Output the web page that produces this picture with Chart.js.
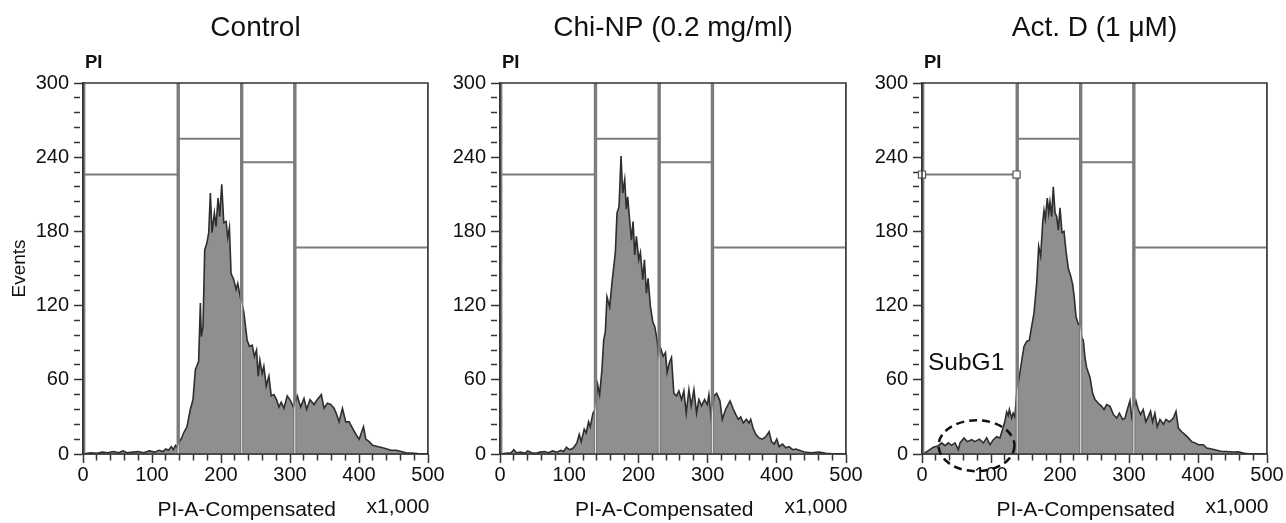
<!DOCTYPE html>
<html><head><meta charset="utf-8">
<script src="https://cdn.jsdelivr.net/npm/chart.js@4.4.1/dist/chart.umd.min.js"></script>
<style>
html,body{margin:0;padding:0;background:#fff;}
#wrap{position:relative;width:1286px;height:523px;overflow:hidden;background:#fff;}
canvas{position:absolute;top:0;}
</style></head><body>
<div id="wrap">
<canvas id="c1" width="480" height="523" style="left:0px;width:480px;height:523px"></canvas>
<canvas id="c2" width="480" height="523" style="left:440px;width:480px;height:523px"></canvas>
<canvas id="c3" width="426" height="523" style="left:860px;width:426px;height:523px"></canvas>
</div>
<script>
// ---- data ----
const titles = ['Control', 'Chi-NP (0.2 mg/ml)', 'Act. D (1 μM)'];
const xTickLabels = [0, 100, 200, 300, 400, 500];
const yTickLabels = [0, 60, 120, 180, 240, 300];
const gateLeft  = [2, 139, 231, 308];
const gateRight = [137, 229, 306, 500];
const gateLevel = [226, 255, 236, 167];

const ctrlX = [0,6,12,20,28,36,44,52,58,64,72,80,88,96,104,110,116,120,124,128,131,134,137,140,143,145.8,150.7,155.5,159.4,162.8,167.6,170.1,171.5,173.9,176.4,179.7,182.2,184.6,187,190.4,192.8,195.7,198.1,201.1,204,207.4,209.8,212.2,214.6,218.5,221.9,224.3,228.2,233,237.9,241.3,245.2,248.5,251.5,253.9,256.3,259.7,262.1,265.5,269.4,272.8,276.6,280.5,283.9,287.3,291.2,296,300.9,305.7,310.6,315.4,320.3,324.1,329,334.8,339.6,345.4,349.3,354.2,359,363.9,367.7,371.1,376,380.8,385.7,390.5,395.4,400.2,402.7,406.5,409.9,414.8,419.6,426.9,434.2,440.5,446.3,453.6,460.9,468.2,475.4,485,500];
const ctrlY = [0,0.5,1,0.5,1.5,1,2,1,2.5,1,1.5,2,1,2.5,1.5,3,2,4,3,6,3.5,7,5,10,13,17,22,36,44,68,75,122,95,103,165,171,179,211,179,195,184,207,192,218,187,188,175,183,146,141,133,138,126,115,92,87,88,79,84,63,76,65,71,55,63,47,48,44,38,42,37,47,43,37,47,38,45,36,44,40,44,48,37,41,40,37,32,26,37,26,26,21,16,12,16,22,12,10,7,6,5,4,3,3,2,1,0.7,0.3,0];

const chiX = [0,8,16,20,24,30,36,40,46,52,58,64,70,76,82,88,92,96,99,101.4,106.3,111.1,114.5,117.4,121.7,124.6,128,130.4,134.3,137.7,141.1,144,147.3,149.8,152.2,154.6,158.5,162.3,166.7,169.1,172,174.9,177.3,180.2,182.6,184.5,187.4,189.9,192.3,194.7,197.1,200.5,202.9,206.3,208.7,211.6,214,217.4,220.8,223.7,227.1,229.5,231.9,235.8,239.1,241.5,244.9,247.8,251.2,255.1,258.5,262.3,265.7,269.1,273,276.3,280.2,284.1,287.4,291.3,295.6,299.5,301.9,305.3,309.2,313,317.8,321.2,326,332.4,336.7,340.6,344.4,347.8,351.7,356,359.9,362.3,365.7,369.6,374.4,379.2,384.1,388.9,392.3,396.2,400,403.4,408.2,413,417.9,422.7,427.5,432.4,439.6,449.3,461.4,471,485,500];
const chiY = [0,0.5,1,3.5,1,1.5,0.5,2.5,1,0.5,1.5,2,1,2.5,1.5,3,2,5.5,4,3.5,5,9,16,10,20,17,26,22,33,36,56,48,68,92,99,127,119,141,163,195,200,241,211,222,198,208,189,173,188,161,176,157,163,141,157,130,142,119,107,103,92,76,86,79,82,66,74,78,49,47,51,44,51,33,52,39,52,33,44,39,44,40,48,28,47,49,43,28,36,43,37,32,28,30,25,28,25,28,21,16,13,12,14,18,10,8,12,6,8,5,6,3.5,4,3,1.6,1,1.6,0.5,0,0];

const actX = [0,1.9,9.2,16.4,23.7,28.5,33.3,38.2,43,47.8,52.7,55.1,60.9,65.7,72,76.8,83.1,88.9,93.7,98.6,103.4,108.2,113,117.9,120,122.7,125,126.6,129.9,132,134.5,137.2,141.1,144.4,147.8,151.7,155.6,158.9,162.3,166.2,169.1,172,174.9,176.8,178.7,181.6,183.6,185.5,187.9,190.3,192.8,195.2,197.6,200,202.9,205.8,208.7,212.1,215.5,218.4,220.8,223.2,226.6,229,231.5,233.8,236.2,238.6,241,243.5,247.3,250.7,255.6,260.4,263.8,267.7,272.5,277.3,282.2,286,290.8,294.2,297.6,301.4,303.9,306.5,310,313.4,316.7,320.6,324.4,327.8,331.2,334.2,337.5,340.9,344.9,349.8,353.6,358.5,364.3,368.1,371.5,376.3,381.2,386,390.8,395.7,400.5,407.7,412.6,419.8,427.1,434.3,441.5,451.2,458.5,465.7,475,500];
const actY = [0,0,2.7,5.4,6.7,9,6.7,9,7,9,3.5,9,13,10,11.6,10,12,9,13,7.5,11.6,14,13,22,26,34,31,36,29,33,30,49,63,75,87,91,92,103,114,138,168,160,187,197,190,207,195,204,192,216,195,192,181,199,179,180,164,150,144,137,126,111,105,104,94,92,78,70,66,62,49,44,41,38.5,36,40,38.5,32,29,33,28,29,36,43,30,36,43,36,32,36,26,30,34.5,26,33,22,28,24,28,26,29,34.5,21,18,15.6,13,10,9,7.5,7.5,4.8,4,3,2,2,1.6,1.8,0.7,0,0];

const subG1Label = {text: 'SubG1', x: 64, y: 68};
const ellipse = {cx: 79, cy: 6.7, rx: 55, ry: 20.6};

// ---- drawing ----
const FONT = "'Liberation Sans', Arial, sans-serif";
Chart.defaults.font.family = FONT;
Chart.defaults.color = '#111';

const extras = {
  id: 'extras',
  afterDatasetsDraw(chart) {
    // light separator between adjacent gates, visible only inside the histogram fill
    const {ctx, chartArea: a, scales: {x, y}} = chart;
    const idx = chart.data.datasets.length - 1;
    const pts = chart.getDatasetMeta(idx).data;
    if (!pts.length) return;
    const y0 = y.getPixelForValue(0);
    ctx.save();
    ctx.beginPath();
    ctx.moveTo(pts[0].x, y0);
    pts.forEach(p => ctx.lineTo(p.x, p.y));
    ctx.lineTo(pts[pts.length - 1].x, y0);
    ctx.closePath();
    ctx.clip();
    ctx.strokeStyle = '#e6e6e6'; ctx.lineWidth = 1;
    for (let g = 0; g < gateLeft.length - 1; g++) {
      const px = x.getPixelForValue((gateRight[g] + gateLeft[g + 1]) / 2);
      ctx.beginPath(); ctx.moveTo(px, y0); ctx.lineTo(px, a.top); ctx.stroke();
    }
    ctx.restore();
  },
  afterDraw(chart, args, o) {
    const {ctx, chartArea: a, scales: {x, y}} = chart;
    ctx.save();
    ctx.strokeStyle = '#333'; ctx.lineWidth = 1.5;
    ctx.strokeRect(a.left, a.top, a.right - a.left, a.bottom - a.top);
    ctx.fillStyle = '#111';
    ctx.font = "bold 18.5px " + FONT;
    ctx.textAlign = 'left'; ctx.textBaseline = 'alphabetic';
    ctx.fillText('PI', a.left + 2, a.top - 15);
    ctx.font = "21px " + FONT;
    ctx.textAlign = 'right';
    ctx.fillText('x1,000', a.right + 1.5, a.bottom + 59);
    if (o.subG1) {
      const cx = x.getPixelForValue(ellipse.cx), cy = y.getPixelForValue(ellipse.cy);
      const rx = Math.abs(x.getPixelForValue(ellipse.cx + ellipse.rx) - cx);
      const ry = Math.abs(y.getPixelForValue(ellipse.cy + ellipse.ry) - cy);
      ctx.setLineDash([8, 5]); ctx.lineWidth = 2.5; ctx.strokeStyle = '#111';
      ctx.beginPath(); ctx.ellipse(cx, cy, rx, ry, 0, 0, Math.PI * 2); ctx.stroke();
      ctx.setLineDash([]);
      ctx.font = "24.5px " + FONT; ctx.textAlign = 'center';
      ctx.fillText(subG1Label.text, x.getPixelForValue(subG1Label.x), y.getPixelForValue(subG1Label.y));
    }
    ctx.restore();
  }
};

function makeChart(id, title, hx, hy, yW, padRight, events, subG1) {
  const datasets = [];
  for (let g = 0; g < gateLeft.length; g++) {
    const l = gateLeft[g], r = gateRight[g], v = gateLevel[g];
    datasets.push({
      data: [{x: l, y: 0}, {x: l, y: 300}, {x: l, y: v}, {x: r, y: v}, {x: r, y: 300}, {x: r, y: 0}],
      borderColor: '#7b7b7b', borderWidth: 2, pointRadius: 0, fill: false, tension: 0, order: 1
    });
  }
  if (subG1) {
    datasets.push({
      data: [{x: 0, y: gateLevel[0]}, {x: gateRight[0], y: gateLevel[0]}],
      showLine: false, pointStyle: 'rect', pointRadius: 5, pointBackgroundColor: '#fff',
      pointBorderColor: '#555', pointBorderWidth: 1.2, order: 0, clip: false
    });
  }
  datasets.push({
    data: hx.map((v, i) => ({x: v, y: hy[i]})),
    borderColor: '#2e2e2e', borderWidth: 1.6, backgroundColor: '#8f8f8f',
    fill: 'origin', pointRadius: 0, tension: 0, order: 2
  });
  return new Chart(document.getElementById(id), {
    type: 'line',
    data: {datasets},
    plugins: [extras],
    options: {
      responsive: false, animation: false, devicePixelRatio: 1,
      layout: {padding: {left: 0, right: padRight, top: 0, bottom: 0}},
      plugins: {
        legend: {display: false}, tooltip: {enabled: false},
        title: {display: true, text: title, fullSize: false, font: {size: 28, weight: 'normal'},
                color: '#111', padding: {top: 11.2, bottom: 38.2}},
        extras: {subG1}
      },
      scales: {
        x: {
          type: 'linear', min: 0, max: 500,
          afterFit: s => { s.height = 69; s.paddingLeft = 0; s.paddingRight = 0; },
          border: {display: true, color: '#333', width: 1.5},
          grid: {display: true, drawOnChartArea: false, drawTicks: true, tickLength: 9,
                 tickColor: '#333', tickWidth: 1.5,
                 tickBorderDash: c => (c.tick && !xTickLabels.includes(c.tick.value)) ? [6, 40] : []},
          ticks: {stepSize: 20, autoSkip: false, maxRotation: 0, padding: 0, font: {size: 20}, color: '#111',
                  callback: v => xTickLabels.includes(v) ? String(v) : ''},
          title: {display: true, text: 'PI-A-Compensated   ', font: {size: 21}, color: '#111',
                  padding: {top: 0, bottom: 0}}
        },
        y: {
          type: 'linear', min: 0, max: 300,
          afterFit: s => { s.width = yW; s.paddingTop = 0; s.paddingBottom = 0; },
          border: {display: true, color: '#333', width: 1.5},
          grid: {display: true, drawOnChartArea: false, drawTicks: true, tickLength: 9,
                 tickColor: '#333', tickWidth: 1.5,
                 tickBorderDash: c => (c.tick && !yTickLabels.includes(c.tick.value)) ? [6, 40] : []},
          ticks: {stepSize: 12, autoSkip: false, padding: 5, font: {size: 20}, color: '#111',
                  callback: v => yTickLabels.includes(v) ? String(v) : ''},
          title: {display: events, text: 'Events', font: {size: 19}, color: '#111',
                  padding: {top: 8.6, bottom: 0}}
        }
      }
    }
  });
}

makeChart('c1', titles[0], ctrlX, ctrlY, 83, 52, true, false);
makeChart('c2', titles[1], chiX, chiY, 60, 74, false, false);
makeChart('c3', titles[2], actX, actY, 62, 19, false, true);
</script>
</body></html>
